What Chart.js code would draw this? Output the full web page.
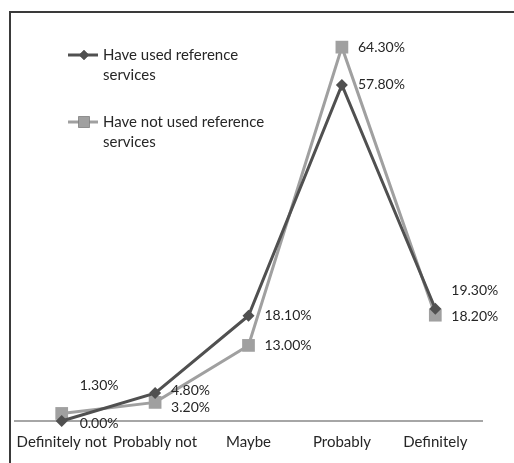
<!DOCTYPE html>
<html lang="en">
<head>
    <meta charset="UTF-8">
    <title>Reference services</title>
    <script src="https://cdn.jsdelivr.net/npm/chart.js"></script>
    <style>
        html, body { margin: 0; padding: 0; background: #ffffff; }
        .wrap { position: relative; width: 514px; height: 463px; }
        .frame {
            position: absolute; left: 9px; top: 11px; right: 0; bottom: 0;
            border-top: 2px solid #3a3a3a; border-left: 2px solid #3a3a3a;
            pointer-events: none;
        }
    </style>
</head>
<body>
    <div class="wrap">
        <canvas id="chart" width="514" height="463"></canvas>
        <div class="frame"></div>
    </div>

    <script>
        // Data
        const categories = ['Definitely not', 'Probably not', 'Maybe', 'Probably', 'Definitely'];
        const seriesNames = ['Have used reference services', 'Have not used reference services'];
        const usedValues = [0.0, 4.8, 18.1, 57.8, 19.3];
        const notUsedValues = [1.3, 3.2, 13.0, 64.3, 18.2];

        const FONT = 'Lato, "Open Sans", sans-serif';
        const TEXT = '#262626';

        // value labels next to each point
        const valueLabels = {
            id: 'valueLabels',
            afterDatasetsDraw(chart, args, opts) {
                const ctx = chart.ctx;
                ctx.save();
                ctx.font = '14px ' + FONT;
                ctx.fillStyle = TEXT;
                ctx.textAlign = 'left';
                ctx.textBaseline = 'middle';
                chart.data.datasets.forEach((ds, di) => {
                    const meta = chart.getDatasetMeta(di);
                    meta.data.forEach((pt, i) => {
                        const off = (opts.offsets[di] && opts.offsets[di][i]) || [0, 0];
                        ctx.fillText(ds.data[i].toFixed(2) + '%', pt.x + 16 + off[0], pt.y + off[1]);
                    });
                });
                ctx.restore();
            }
        };

        // legend drawn inside the plot, with wrapped text
        const insideLegend = {
            id: 'insideLegend',
            afterDraw(chart, args, opts) {
                const ctx = chart.ctx;
                ctx.save();
                ctx.font = '15px ' + FONT;
                chart.data.datasets.forEach((ds, di) => {
                    const y = opts.y + di * opts.gap;
                    ctx.strokeStyle = ds.borderColor;
                    ctx.lineWidth = ds.borderWidth;
                    ctx.beginPath();
                    ctx.moveTo(opts.x, y);
                    ctx.lineTo(opts.x + 30, y);
                    ctx.stroke();
                    Chart.helpers.drawPoint(ctx, {
                        pointStyle: ds.pointStyle,
                        radius: ds.pointRadius - 1,
                        rotation: 0,
                        borderWidth: 0
                    }, opts.x + 16, y);
                    ctx.fillStyle = ds.pointBackgroundColor;
                    ctx.fill();

                    // wrap label
                    const words = ds.label.split(' ');
                    const lines = [];
                    let cur = '';
                    words.forEach(w => {
                        const test = cur ? cur + ' ' + w : w;
                        if (ctx.measureText(test).width > opts.maxWidth && cur) {
                            lines.push(cur);
                            cur = w;
                        } else {
                            cur = test;
                        }
                    });
                    lines.push(cur);
                    ctx.fillStyle = TEXT;
                    ctx.textAlign = 'left';
                    ctx.textBaseline = 'middle';
                    lines.forEach((l, li) => ctx.fillText(l, opts.x + 35, y + li * 20));
                });
                ctx.restore();
            }
        };

        new Chart(document.getElementById('chart'), {
            type: 'line',
            data: {
                labels: categories,
                datasets: [{
                    label: seriesNames[0],
                    data: usedValues,
                    borderColor: '#505050',
                    backgroundColor: '#505050',
                    pointBackgroundColor: '#505050',
                    pointBorderWidth: 0,
                    borderWidth: 3,
                    pointStyle: 'rectRot',
                    pointRadius: 6,
                    tension: 0
                }, {
                    label: seriesNames[1],
                    data: notUsedValues,
                    borderColor: '#a0a0a0',
                    backgroundColor: '#a0a0a0',
                    pointBackgroundColor: '#a0a0a0',
                    pointBorderWidth: 0,
                    borderWidth: 3,
                    pointStyle: 'rect',
                    pointRadius: 9,
                    tension: 0
                }]
            },
            options: {
                responsive: false,
                animation: false,
                clip: false,
                layout: { padding: { left: 15, right: 32, top: 14, bottom: 0 } },
                scales: {
                    x: {
                        offset: true,
                        grid: { display: false, drawTicks: false },
                        border: { display: true, color: '#a6a6a6', width: 2 },
                        ticks: { padding: 12, color: TEXT, font: { family: FONT, size: 15 }, maxRotation: 0, autoSkip: false }
                    },
                    y: { display: false, min: 0, max: 70 }
                },
                plugins: {
                    legend: { display: false },
                    tooltip: { enabled: false },
                    valueLabels: {
                        offsets: [
                            [[2, 2], [0, -3], [0, 0], [0, 0], [0, -18]],
                            [[2, -28], [0, 5], [0, 0], [0, 0], [0, 1]]
                        ]
                    },
                    insideLegend: { x: 68, y: 55, gap: 67, maxWidth: 170 }
                }
            },
            plugins: [valueLabels, insideLegend]
        });
    </script>
</body>
</html>
